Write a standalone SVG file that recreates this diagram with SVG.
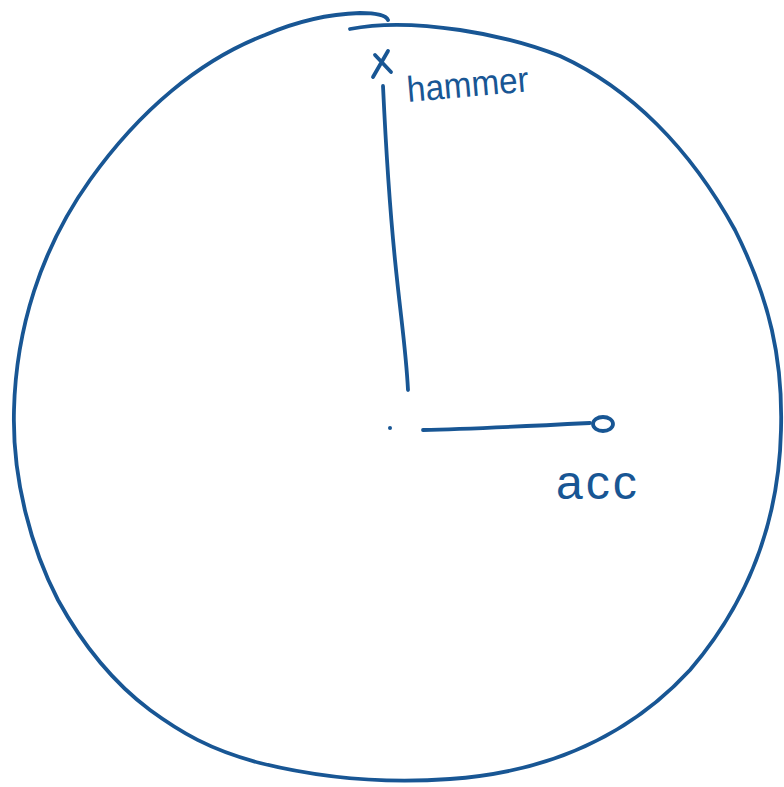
<svg xmlns="http://www.w3.org/2000/svg" width="784" height="787" viewBox="0 0 784 787">
<style>
.ink{fill:none;stroke:#185694;stroke-width:3.8;stroke-linecap:round;stroke-linejoin:round}
.lbl{font-family:"Liberation Sans",Arial,sans-serif;fill:#185694}
</style>
<rect width="784" height="787" fill="#fff"/>
<g id="outline">
<path class="ink" d="M350,29 C380,23 420,24 460,30 C500,36 530,44 560,56 C630,88 690,148 735,230 C770,300 783,360 781,430 C779,520 750,600 690,670 C630,735 550,772 450,779 C380,784 320,778 260,763 C210,750 180,732 150,710 C110,680 80,640 58,600 C32,550 12,480 14,410 C16,330 40,250 90,180 C140,110 200,60 265,35 C295,22 330,14 360,13 C375,13 386,15 388,20"/>
</g>
<g id="hammer">
<path class="ink" d="M375,55 L391,72 M388,51 L373,77"/>
<text class="lbl" x="408" y="102" font-size="36" textLength="122" lengthAdjust="spacingAndGlyphs" transform="rotate(-5 408 102)">hammer</text>
</g>
<g id="center">
<circle cx="390" cy="428" r="2" fill="#185694"/>
</g>
<g id="acc">
<ellipse class="ink" cx="603" cy="424" rx="10" ry="7"/>
<text class="lbl" x="556" y="499" font-size="48" letter-spacing="3">acc</text>
</g>
<g id="connectors">
<path class="ink" d="M383,86 C386,150 390,210 395,260 C401,320 406,350 408,390"/>
<path class="ink" d="M423,430 C470,429 530,426 590,423"/>
</g>
</svg>
